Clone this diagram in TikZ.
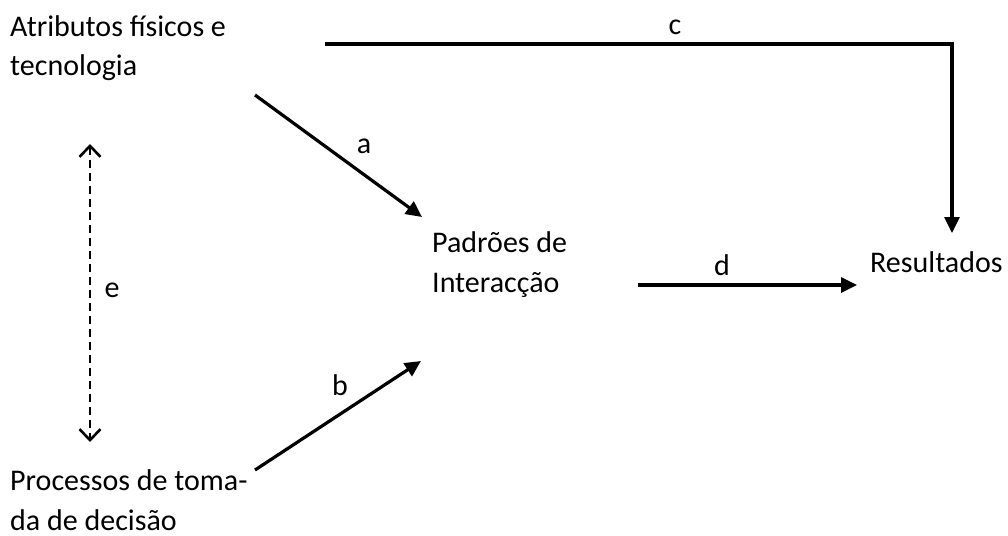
\documentclass[tikz,border=0pt]{standalone}
\usepackage{fontspec}
\setmainfont{Carlito}
\usetikzlibrary{arrows.meta}
\begin{document}
\begin{tikzpicture}[x=1pt,y=-1pt,
  lbl/.style={inner sep=0pt,font=\fontsize{30}{39}\selectfont},
  txt/.style={inner sep=0pt,align=left,anchor=base west,font=\fontsize{30}{39.5}\selectfont},
  arr/.style={line width=3.2pt,-{Triangle[length=16pt,width=15pt]}},
  darr/.style={line width=2.7pt,dash pattern=on 8pt off 5pt,{Straight Barb[length=11pt,width=21pt,line width=2.6pt]}-{Straight Barb[length=11pt,width=21pt,line width=2.6pt]}}]
\useasboundingbox (0,0) rectangle (1008,535);
\node[txt] (attr) at (10,75.5) {Atributos físicos e\\tecnologia};
\node[txt] (proc) at (10,530) {Processos de toma-\\da de decisão};
\node[txt] (pad) at (432,292) {Padrões de\\Interacção};
\node[txt] (res) at (870,272) {Resultados};
\coordinate (a1) at (255,95);
\coordinate (a2) at (422,217);
\coordinate (b1) at (255,470);
\coordinate (b2) at (421,361);
\coordinate (c1) at (325,44);
\coordinate (c2) at (952,44);
\coordinate (c3) at (952,233);
\coordinate (d1) at (638,285);
\coordinate (d2) at (857,285);
\coordinate (e1) at (90,144);
\coordinate (e2) at (90,442);
\draw[arr] (a1) -- (a2);
\draw[arr] (b1) -- (b2);
\draw[arr] (c1) -- (c2) -- (c3);
\draw[arr] (d1) -- (d2);
\draw[darr] (e1) -- (e2);
\node[lbl] (la) at (364,146) {a};
\node[lbl] (lb) at (340,385) {b};
\node[lbl] (lc) at (675,27) {c};
\node[lbl] (ld) at (722,265) {d};
\node[lbl] (le) at (112,290) {e};
\end{tikzpicture}
\end{document}
